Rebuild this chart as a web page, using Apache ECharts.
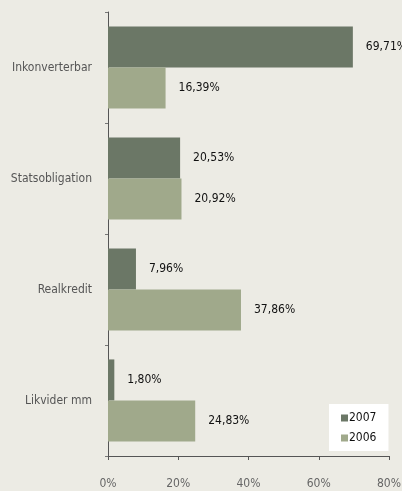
<!DOCTYPE html>
<html>
<head>
<meta charset="utf-8">
<script src="https://cdn.jsdelivr.net/npm/echarts@6/dist/echarts.min.js"></script>
<style>
  html, body { margin: 0; padding: 0; background: #ecebe4; }
  #chart { width: 402px; height: 491px; }
</style>
</head>
<body>
<div id="chart"></div>
<script>
// kategorier, oppefra og ned
const categories = ['Inkonverterbar', 'Statsobligation', 'Realkredit', 'Likvider mm']
const values2007 = [69.71, 20.53, 7.96, 1.80]
const values2006 = [16.39, 20.92, 37.86, 24.83]
const xTicks = [0, 20, 40, 60, 80]

const FONT = 'DejaVu Sans Condensed'
const fmt = v => v.toFixed(2).replace('.', ',') + '%'

const chart = echarts.init(document.getElementById('chart'))

const labelStyle = {
  show: true,
  position: 'right',
  distance: 13,
  color: '#111',
  fontFamily: FONT,
  fontSize: 12,
  formatter: p => fmt(p.value)
}

chart.setOption({
  backgroundColor: '#ecebe4',
  animation: false,
  grid: { left: 108, right: 13, top: 12, bottom: 35, outerBoundsMode: 'none' },
  legend: {
    orient: 'vertical',
    left: 329,
    top: 404,
    width: 57,
    backgroundColor: '#ffffff',
    padding: [8, 12, 7, 12],
    itemGap: 8,
    itemWidth: 7,
    itemHeight: 7,
    icon: 'rect',
    textStyle: { fontFamily: FONT, fontSize: 12, color: '#111', padding: [0, 0, 0, -4] },
    data: ['2007', '2006']
  },
  xAxis: {
    type: 'value',
    min: xTicks[0],
    max: xTicks[xTicks.length - 1],
    interval: 20,
    axisLine: { show: true, lineStyle: { color: '#555' } },
    axisTick: { show: true, length: 4, lineStyle: { color: '#555' } },
    splitLine: { show: false },
    axisLabel: {
      margin: 22,
      color: '#666',
      fontFamily: FONT,
      fontSize: 12,
      formatter: v => v + '%'
    }
  },
  yAxis: {
    type: 'category',
    inverse: true,
    data: categories,
    axisLine: { show: true, lineStyle: { color: '#555' } },
    axisTick: { show: true, length: 3, lineStyle: { color: '#777' } },
    axisLabel: {
      margin: 16,
      color: '#555',
      fontFamily: FONT,
      fontSize: 12
    }
  },
  series: [
    {
      name: '2007',
      type: 'bar',
      data: values2007,
      barGap: '0%',
      barCategoryGap: '26%',
      itemStyle: { color: '#6b7766' },
      label: labelStyle
    },
    {
      name: '2006',
      type: 'bar',
      data: values2006,
      itemStyle: { color: '#a0a98b' },
      label: labelStyle
    }
  ]
})
</script>
</body>
</html>
